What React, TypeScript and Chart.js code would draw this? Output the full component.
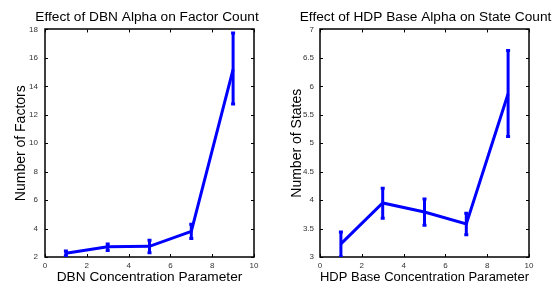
import React, { useEffect, useRef } from "react";
import { Chart, registerables } from "chart.js";

Chart.register(...registerables);

const alphaValues = [1, 3, 5, 7, 9];
const factorMean = [2.26, 2.72, 2.75, 3.8, 15.2];
const factorLow = [2.08, 2.46, 2.3, 3.3, 12.75];
const factorHigh = [2.42, 2.92, 3.18, 4.3, 17.75];
const stateMean = [3.23, 3.95, 3.79, 3.58, 5.87];
const stateLow = [3.0, 3.68, 3.56, 3.39, 5.12];
const stateHigh = [3.44, 4.21, 4.02, 3.77, 6.63];

const xTickValues = [0, 2, 4, 6, 8, 10];
const factorTickValues = [2, 4, 6, 8, 10, 12, 14, 16, 18];
const stateTickValues = [3, 3.5, 4, 4.5, 5, 5.5, 6, 6.5, 7];

const FONT = "'Liberation Sans', Arial, Helvetica, sans-serif";

const boxPlugin = {
  id: "matlabBox",
  beforeDatasetsDraw(chart: any) {
    const { ctx, chartArea, scales } = chart;
    const { left, right, top, bottom } = chartArea;
    ctx.save();
    ctx.strokeStyle = "#000";
    ctx.lineWidth = 1.5;
    ctx.strokeRect(Math.round(left), Math.round(top), Math.round(right - left), Math.round(bottom - top));
    ctx.beginPath();
    ctx.lineWidth = 1;
    const L = 3;
    scales.x.ticks.forEach((t: any) => {
      const px = Math.round(scales.x.getPixelForValue(t.value)) + 0.5;
      ctx.moveTo(px, bottom);
      ctx.lineTo(px, bottom - L);
      ctx.moveTo(px, top);
      ctx.lineTo(px, top + L);
    });
    scales.y.ticks.forEach((t: any) => {
      const py = Math.round(scales.y.getPixelForValue(t.value)) + 0.5;
      ctx.moveTo(left, py);
      ctx.lineTo(left + L, py);
      ctx.moveTo(right, py);
      ctx.lineTo(right - L, py);
    });
    ctx.stroke();
    ctx.restore();
  },
};

function buildErr(lo: number[], hi: number[]) {
  const out: any[] = [];
  alphaValues.forEach((x, i) => {
    out.push({ x, y: lo[i] });
    out.push({ x, y: hi[i] });
    out.push({ x, y: null });
  });
  return out;
}

type Props = {
  title: string;
  xTitle: string;
  yTitle: string;
  mean: number[];
  lo: number[];
  hi: number[];
  yTicks: number[];
  leftW: number;
  rightPad: number;
  titleShift: number;
  yTickPad: number;
};

function ErrChart(p: Props) {
  const ref = useRef<HTMLCanvasElement>(null);
  useEffect(() => {
    const chart = new Chart(ref.current!, {
      type: "line",
      data: {
        datasets: [
          {
            data: alphaValues.map((x, i) => ({ x, y: p.mean[i] })),
            borderColor: "#0000ff",
            borderWidth: 3,
            pointRadius: 0,
            tension: 0,
          },
          {
            data: buildErr(p.lo, p.hi),
            borderColor: "#0000ff",
            borderWidth: 3,
            spanGaps: false,
            pointStyle: "line",
            pointRadius: 2,
            pointBorderWidth: 3,
            pointBorderColor: "#0000ff",
            tension: 0,
          },
        ],
      },
      options: {
        responsive: false,
        animation: false,
        devicePixelRatio: 1,
        layout: { padding: { left: 0, right: -p.titleShift, top: 0, bottom: 0 } },
        plugins: {
          legend: { display: false },
          tooltip: { enabled: false },
          title: {
            display: true,
            text: p.title,
            color: "#000",
            font: { family: FONT, size: 13.7, weight: "normal" },
            padding: { top: 9, bottom: 4 },
          },
        },
        scales: {
          x: {
            type: "linear",
            min: 0,
            max: 10,
            afterBuildTicks: (s: any) => {
              s.ticks = xTickValues.map((v) => ({ value: v }));
            },
            afterFit: (s: any) => {
              s.height = 27;
            },
            grid: { display: false, drawTicks: false },
            border: { display: false },
            ticks: {
              color: "#333",
              font: { family: FONT, size: 8 },
              padding: 4,
              maxRotation: 0,
              callback: (v: any) => String(v),
            },
            title: {
              display: true,
              text: p.xTitle,
              color: "#000",
              font: { family: FONT, size: 13.7, lineHeight: 1 },
              padding: { top: 0, bottom: 0 },
            },
          },
          y: {
            type: "linear",
            min: p.yTicks[0],
            max: p.yTicks[p.yTicks.length - 1],
            afterBuildTicks: (s: any) => {
              s.ticks = p.yTicks.map((v) => ({ value: v }));
            },
            afterFit: (s: any) => {
              s.width = p.leftW;
            },
            grid: { display: false, drawTicks: false },
            border: { display: false },
            ticks: {
              color: "#333",
              font: { family: FONT, size: 8 },
              padding: p.yTickPad,
              callback: (v: any) => String(v),
            },
            title: {
              display: true,
              text: p.yTitle,
              color: "#000",
              font: { family: FONT, size: 14, lineHeight: 1.2 },
              padding: { top: 13, bottom: 0 },
            },
          },
          yRight: {
            type: "linear",
            position: "right",
            display: true,
            afterFit: (s: any) => {
              s.width = p.rightPad + p.titleShift;
            },
            grid: { display: false, drawTicks: false },
            border: { display: false },
            ticks: { display: false },
          },
        },
      } as any,
      plugins: [boxPlugin],
    });
    return () => chart.destroy();
  }, []);
  return <canvas ref={ref} width={276} height={284} style={{ display: "block" }} />;
}

export default function App() {
  return (
    <div style={{ position: "fixed", left: 0, top: 0, width: 552, height: 284, display: "flex", background: "#fff" }}>
      <ErrChart
        title="Effect of DBN Alpha on Factor Count"
        xTitle="DBN Concentration Parameter"
        yTitle="Number of Factors"
        mean={factorMean}
        lo={factorLow}
        hi={factorHigh}
        yTicks={factorTickValues}
        leftW={45}
        rightPad={22}
        titleShift={18}
        yTickPad={7}
      />
      <ErrChart
        title="Effect of HDP Base Alpha on State Count"
        xTitle="HDP Base Concentration Parameter"
        yTitle="Number of States"
        mean={stateMean}
        lo={stateLow}
        hi={stateHigh}
        yTicks={stateTickValues}
        leftW={44}
        rightPad={23}
        titleShift={23}
        yTickPad={6}
      />
    </div>
  );
}
